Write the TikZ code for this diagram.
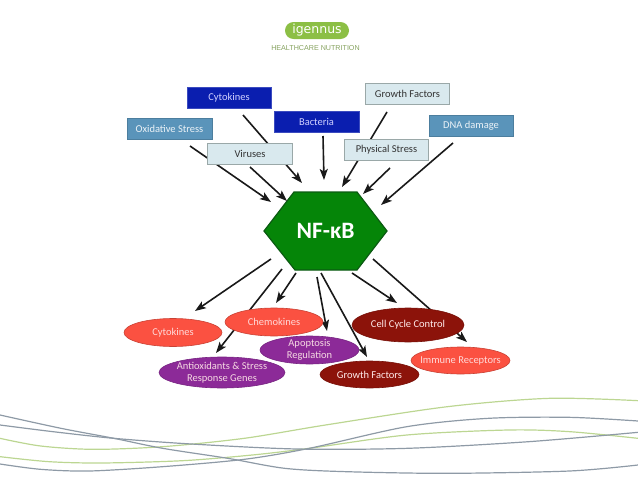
\documentclass[tikz,border=0pt]{standalone}
\usepackage{fontspec}
\setmainfont{Carlito}
\newfontfamily\logofont{Liberation Sans}
\newfontfamily\logoserif{DejaVu Sans}
\usetikzlibrary{arrows.meta,shapes.geometric}
\definecolor{darkblue}{HTML}{0A1EAF}
\definecolor{steel}{HTML}{5A94BA}
\definecolor{pale}{HTML}{D9E9EE}
\definecolor{paleline}{HTML}{9AA8A8}
\definecolor{hexgreen}{HTML}{058508}
\definecolor{hexline}{HTML}{0B5A12}
\definecolor{tomato2}{HTML}{FB5141}
\definecolor{purple2}{HTML}{8C2A98}
\definecolor{maroon2}{HTML}{8C130A}
\definecolor{logogreen}{HTML}{8CBF45}
\definecolor{wavegray}{HTML}{8E9AA6}
\definecolor{wavegreen}{HTML}{BCD692}
\tikzset{
  arr/.style={draw=black!90,line width=1.6pt,-{Stealth[length=11pt,width=8pt,inset=2.5pt]}},
  boxbase/.style={rectangle,minimum height=21pt,minimum width=84.5pt,inner sep=0pt,font=\fontsize{10.5}{12}\selectfont},
  darkbox/.style={boxbase,fill=darkblue,draw=darkblue!80!white,text=blue!18!white},
  steelbox/.style={boxbase,fill=steel,draw=steel!85!black,text=white!88!steel},
  palebox/.style={boxbase,fill=pale,draw=paleline,line width=0.8pt,text=black!80},
  ell/.style={ellipse,inner sep=-14pt,font=\fontsize{10.5}{12.4}\selectfont,align=center,line width=0.6pt},
  redell/.style={ell,fill=tomato2,draw=tomato2!80!black,text=red!15!white},
  purell/.style={ell,fill=purple2,draw=purple2!85!black,text=purple!15!white},
  marell/.style={ell,fill=maroon2,draw=maroon2!85!black,text=red!8!white},
  wavegr/.style={wavegray,line width=1.2pt,smooth},
  wavegn/.style={wavegreen,line width=1.2pt,smooth},
}
\begin{document}
\begin{tikzpicture}[x=1pt,y=-1pt]
\useasboundingbox (0,0) rectangle (638,479);
% waves
\begin{scope}[shift={(0,390)},x=0.40689pt,y=-0.33333pt]
\draw[wavegn] plot coordinates {(0,145)(100,168)(230,178)(400,170)(600,145)(800,105)(1100,50)(1350,25)(1568,32)};
\draw[wavegn] plot coordinates {(0,200)(120,215)(250,219)(450,212)(620,195)(760,175)(1000,135)(1250,120)(1400,125)(1568,145)};
\draw[wavegr] plot coordinates {(0,75)(150,115)(280,145)(400,175)(560,205)(700,235)(850,245)(1100,250)(1400,243)(1568,225)};
\draw[wavegr] plot coordinates {(0,105)(130,125)(280,145)(470,162)(730,177)(1000,175)(1300,155)(1568,127)};
\draw[wavegr] plot coordinates {(0,222)(100,238)(220,243)(400,230)(600,208)(760,175)(1000,110)(1200,85)(1400,82)(1568,93)};
\end{scope}
% logo
\node[rectangle,rounded corners=8.5pt,fill=logogreen,minimum width=64pt,minimum height=17pt,inner sep=0pt,text=white,font=\logoserif\fontsize{12.5}{13}\selectfont] (logo) at (317,30.5) {igennus};
\node[inner sep=0pt,text=logogreen!55!gray,font=\logofont\fontsize{7.15}{8}\selectfont] (tag) at (315.5,48) {HEALTHCARE NUTRITION};
% arrow end points
\coordinate (i1s) at (243,115); \coordinate (i1e) at (302,183);
\coordinate (i2s) at (323,136); \coordinate (i2e) at (324,180);
\coordinate (i3s) at (387,112); \coordinate (i3e) at (342,187);
\coordinate (i4s) at (190,146); \coordinate (i4e) at (271,202);
\coordinate (i5s) at (250,167); \coordinate (i5e) at (287,201);
\coordinate (i6s) at (390,168); \coordinate (i6e) at (363,194);
\coordinate (i7s) at (453,143); \coordinate (i7e) at (381,205);
\coordinate (o1s) at (271,259); \coordinate (o1e) at (195,311);
\coordinate (o2s) at (282,269); \coordinate (o2e) at (216,353);
\coordinate (o3s) at (296,273); \coordinate (o3e) at (276,303);
\coordinate (o4s) at (317,277); \coordinate (o4e) at (327,331);
\coordinate (o5s) at (321,273); \coordinate (o5e) at (367,357);
\coordinate (o6s) at (352,273); \coordinate (o6e) at (397,303);
\coordinate (o7s) at (373,259); \coordinate (o7e) at (467,342);
% connectors (behind the boxes and ellipses)
\foreach \a in {i1,i2,i3,i4,i5,i6,i7,o1,o2,o3,o4,o5,o6,o7}
  \draw[arr] (\a s) -- (\a e);
% input boxes
\node[darkbox] (cyt) at (229,97.5) {Cytokines};
\node[darkbox] (bac) at (316.5,121.5) {Bacteria};
\node[palebox] (gf) at (407.5,93.5) {Growth Factors};
\node[steelbox] (ox) at (169.5,128.5) {Oxidative Stress};
\node[palebox] (vir) at (250,153.5) {Viruses};
\node[palebox] (phy) at (386.5,149.5) {Physical Stress};
\node[steelbox] (dna) at (471,125.5) {DNA damage};
% hexagon
\draw[fill=hexgreen,draw=hexline,line width=1.2pt] (294,192) -- (357,192) -- (387,231) -- (357,270) -- (295,270) -- (264,231) -- cycle;
\node[inner sep=0pt,text=white,font=\fontsize{23.5}{25}\selectfont\bfseries] (nf) at (325.5,231) {NF-κB};
% output ellipses
\node[redell,minimum width=98pt,minimum height=28pt] (ocyt) at (173,332.5) {Cytokines};
\node[redell,minimum width=98pt,minimum height=28pt] (ochem) at (274,322) {Chemokines};
\node[purell,minimum width=99pt,minimum height=28pt] (oapo) at (309.5,350) {Apoptosis\\Regulation};
\node[purell,minimum width=126pt,minimum height=31pt] (oant) at (222,372.5) {Antioxidants \& Stress\\Response Genes};
\node[marell,minimum width=99pt,minimum height=27pt] (ogf) at (369.5,374.5) {Growth Factors};
\node[marell,minimum width=112pt,minimum height=34pt] (occ) at (408,325) {Cell Cycle Control};
\node[redell,minimum width=99pt,minimum height=27pt] (oimm) at (460.5,360.5) {Immune Receptors};
\end{tikzpicture}
\end{document}
